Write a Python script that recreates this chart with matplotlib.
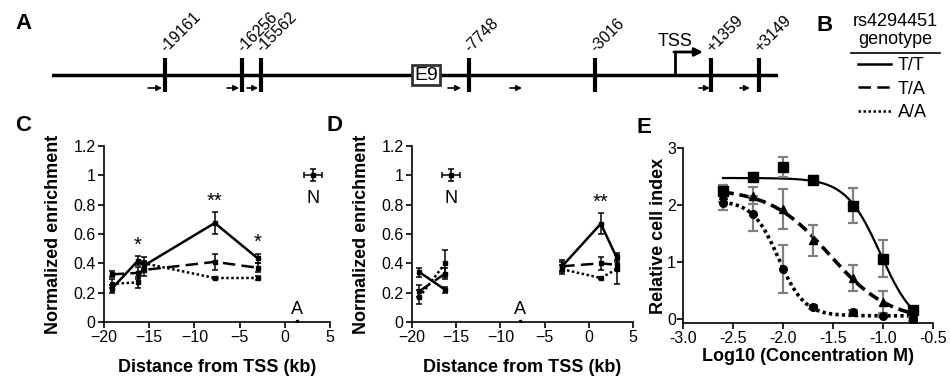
import numpy as np
import matplotlib
matplotlib.use('Agg')
import matplotlib.pyplot as plt
from matplotlib.lines import Line2D
from matplotlib.ticker import FuncFormatter

plt.rcParams['font.family'] = ['Liberation Sans', 'DejaVu Sans']

# ---- panel A: primer map (bp from TSS)
site_pos = [-19161, -16256, -15562, -7748, -3016, 1359, 3149]
site_lab = ['-19161', '-16256', '-15562', '-7748', '-3016', '+1359', '+3149']
primer_start = [-19790, -16823, -16072, -8524, -6196, 901, 2441]
primer_end = [-19264, -16372, -15659, -8036, -5745, 1314, 2816]
e9_pos = -9360
tss_pos = 0

# ---- panels C / D: ChIP enrichment (kb from TSS)
c_x = [-19.161, -16.256, -15.562, -7.748, -3.016]
c_tt = [0.225, 0.418, 0.385, 0.675, 0.435]
c_tt_err = [0.03, 0.03, 0.03, 0.075, 0.03]
c_ta = [0.325, 0.335, 0.355, 0.41, 0.37]
c_ta_err = [0.02, 0.04, 0.04, 0.055, 0.03]
c_aa = [0.26, 0.27, 0.40, 0.30, 0.30]
c_aa_err = [0.03, 0.035, 0.04, 0.01, 0.015]
c_stars = [(-16.256, '*'), (-7.748, '**'), (-3.016, '*')]
c_n = 3.149
c_a = 1.359

d_x_left = [-19.161, -16.256]
d_x_right = [-3.016, 1.359, 3.149]
d_tt_left = [0.34, 0.22]
d_tt_left_err = [0.03, 0.02]
d_ta_left = [0.21, 0.33]
d_ta_left_err = [0.04, 0.04]
d_aa_left = [0.17, 0.40]
d_aa_left_err = [0.05, 0.09]
d_tt_right = [0.38, 0.67, 0.44]
d_tt_right_err = [0.03, 0.07, 0.03]
d_ta_right = [0.38, 0.40, 0.39]
d_ta_right_err = [0.04, 0.045, 0.03]
d_aa_right = [0.36, 0.30, 0.36]
d_aa_right_err = [0.03, 0.01, 0.10]
d_stars = [(1.359, '**')]
d_n = -15.562
d_a = -7.748

# ---- panel E: cell index vs log10 concentration
logc = [-2.6, -2.3, -2.0, -1.7, -1.3, -1.0, -0.7]
e_tt = [2.25, 2.49, 2.67, 2.44, 1.99, 1.06, 0.16]
e_tt_err = [0.1, 0.07, 0.18, 0.07, 0.3, 0.33, 0.05]
e_ta = [2.18, 2.16, 1.93, 1.38, 0.72, 0.30, 0.09]
e_ta_err = [0.12, 0.15, 0.35, 0.27, 0.22, 0.19, 0.04]
e_aa = [2.03, 1.85, 0.88, 0.21, 0.12, 0.05, -0.01]
e_aa_err = [0.12, 0.3, 0.42, 0.03, 0.03, 0.02, 0.02]

W, H = 950, 378


def box(l, t, r, b):
    return [l / W, 1 - b / H, (r - l) / W, (b - t) / H]


def fit4pl(x, y):
    # grid over ec50 / hill, bottom and span solved by least squares
    x = np.asarray(x)
    y = np.asarray(y)
    cs, hs = np.meshgrid(np.arange(-3.0, -0.3, 0.005), np.arange(0.5, 12, 0.05))
    s = 1 / (1 + 10 ** (hs[..., None] * (x - cs[..., None])))
    sm = s.mean(-1, keepdims=True)
    a = ((s - sm) * (y - y.mean())).sum(-1) / ((s - sm) ** 2).sum(-1)
    b = y.mean() - a * sm[..., 0]
    res = ((y - b[..., None] - a[..., None] * s) ** 2).sum(-1)
    i = np.unravel_index(np.argmin(res), res.shape)
    return cs[i], hs[i], a[i], b[i]


fig = plt.figure(figsize=(9.5, 3.78), dpi=100)

# ================= A
ax_a = fig.add_axes(box(52, 0, 778, 110))
ax_a.set_xlim(-23400, 3870)
ax_a.set_ylim(110, 0)
ax_a.axis('off')
ax_a.axhline(75, color='k', lw=2.5, zorder=1)
for pos, lab in zip(site_pos, site_lab):
    ax_a.plot([pos, pos], [58, 92], color='k', lw=3, solid_capstyle='butt')
    ax_a.annotate(lab, xy=(pos, 53), xycoords='data', xytext=(1, 0),
                  textcoords='offset points', rotation=45.0,
                  rotation_mode='anchor', ha='left', va='baseline', fontsize=11.5)
for s0, s1 in zip(primer_start, primer_end):
    ax_a.annotate('', xy=(s1, 88), xytext=(s0, 88),
                  arrowprops=dict(arrowstyle='-|>', lw=1.2, color='k',
                                  mutation_scale=8, shrinkA=0, shrinkB=0))
ax_a.text(e9_pos, 75, 'E9', ha='center', va='center', fontsize=14, zorder=3,
          bbox=dict(boxstyle='square,pad=0.1', fc='white', ec='#333333', lw=2))
ax_a.plot([tss_pos, tss_pos], [75, 52], color='k', lw=2, solid_capstyle='butt')
ax_a.annotate('', xy=(tss_pos + 1050, 52), xytext=(tss_pos - 40, 52),
              arrowprops=dict(arrowstyle='-|>', lw=2, color='k',
                              mutation_scale=12, shrinkA=0, shrinkB=0))
ax_a.text(tss_pos, 42, 'TSS', ha='center', va='center', fontsize=13)

# ================= C and D
styles = {
    'T/T': dict(ls='-', lw=1.8),
    'T/A': dict(ls=(0, (5, 2.5)), lw=1.8),
    'A/A': dict(ls=(0, (1, 1)), lw=1.8),
}


def chip_series(ax, x, y, err, key):
    ax.errorbar(x, y, yerr=err, color='k', marker='s', ms=2.5,
                capsize=2.2, elinewidth=1.1, capthick=1.1, **styles[key])


def chip_axes(ax, n_pos, a_pos, stars, tops):
    ax.set_xlim(-20, 5)
    ax.set_ylim(0, 1.2)
    ax.set_xticks(np.arange(-20, 6, 5))
    ax.set_yticks(np.arange(0, 1.21, 0.2))
    ax.yaxis.set_major_formatter(FuncFormatter(lambda v, p: '%g' % round(v, 1)))
    ax.errorbar([n_pos], [1.0], xerr=1.0, yerr=0.04, color='k', marker='s',
                ms=2.5, capsize=2.2, elinewidth=1.1, capthick=1.1, ls='none')
    ax.text(n_pos, 0.845, 'N', ha='center', va='center', fontsize=13)
    ax.plot([a_pos], [0.01], 's', color='k', ms=2)
    ax.text(a_pos, 0.085, 'A', ha='center', va='center', fontsize=13)
    for (sx, lab) in stars:
        ax.text(sx, tops[sx] + 0.075, lab, ha='center', va='center', fontsize=14.5)
    ax.set_xlabel('Distance from TSS (kb)', fontsize=13, fontweight='bold', labelpad=10)
    ax.set_ylabel('Normalized enrichment', fontsize=13, fontweight='bold', labelpad=8)


ax_c = fig.add_axes(box(104, 146, 330, 322))
chip_series(ax_c, c_x, c_tt, c_tt_err, 'T/T')
chip_series(ax_c, c_x, c_ta, c_ta_err, 'T/A')
chip_series(ax_c, c_x, c_aa, c_aa_err, 'A/A')
tops_c = {x: v + e for x, v, e in zip(c_x, c_tt, c_tt_err)}
chip_axes(ax_c, c_n, c_a, c_stars, tops_c)

ax_d = fig.add_axes(box(412, 146, 633, 322))
chip_series(ax_d, d_x_left, d_tt_left, d_tt_left_err, 'T/T')
chip_series(ax_d, d_x_left, d_ta_left, d_ta_left_err, 'T/A')
chip_series(ax_d, d_x_left, d_aa_left, d_aa_left_err, 'A/A')
chip_series(ax_d, d_x_right, d_tt_right, d_tt_right_err, 'T/T')
chip_series(ax_d, d_x_right, d_ta_right, d_ta_right_err, 'T/A')
chip_series(ax_d, d_x_right, d_aa_right, d_aa_right_err, 'A/A')
tops_d = {x: v + e for x, v, e in zip(d_x_right, d_tt_right, d_tt_right_err)}
chip_axes(ax_d, d_n, d_a, d_stars, tops_d)

# ================= E
ax_e = fig.add_axes(box(683, 148, 933, 323))
xx = np.linspace(logc[0], logc[-1], 300)
curve_style = {
    'T/T': dict(ls='-', lw=1.6),
    'T/A': dict(ls=(0, (3, 1.6)), lw=2.6),
    'A/A': dict(ls=(0, (0.9, 0.9)), lw=2.6),
}
for y, err, mk, ms, key in [(e_tt, e_tt_err, 's', 7.5, 'T/T'),
                            (e_ta, e_ta_err, '^', 5.5, 'T/A'),
                            (e_aa, e_aa_err, 'o', 5.5, 'A/A')]:
    c50, hill, amp, bot = fit4pl(logc, y)
    ax_e.plot(xx, bot + amp / (1 + 10 ** (hill * (xx - c50))), color='k',
              zorder=2, **curve_style[key])
    ax_e.errorbar(logc, y, yerr=err, fmt='none', ecolor='#808080',
                  elinewidth=1.6, capsize=3.5, capthick=1.6, zorder=3)
    ax_e.plot(logc, y, mk, color='k', ms=ms, zorder=4)
ax_e.set_xlim(-3.0, -0.5)
ax_e.set_ylim(-0.07, 3)
ax_e.set_xticks(np.arange(-3.0, -0.49, 0.5))
ax_e.set_yticks([0, 1, 2, 3])
ax_e.xaxis.set_major_formatter(FuncFormatter(lambda v, p: '%.1f' % v))
ax_e.set_xlabel('Log10 (Concentration M)', fontsize=13, fontweight='bold', labelpad=1)

for ax in (ax_c, ax_d, ax_e):
    for side in ('top', 'right'):
        ax.spines[side].set_visible(False)
    for side in ('left', 'bottom'):
        ax.spines[side].set_linewidth(1.2)
    ax.tick_params(direction='out', length=4, width=1.2, labelsize=11.5, pad=2)
ax_e.tick_params(axis='y', pad=1)
ax_e.set_ylabel('Relative cell index', fontsize=13, fontweight='bold', labelpad=0)

# ================= B legend
fig.text(895 / W, 1 - 22 / H, 'rs4294451', ha='center', va='center', fontsize=13)
fig.text(895 / W, 1 - 40 / H, 'genotype', ha='center', va='center', fontsize=13)
fig.add_artist(Line2D([851 / W, 940 / W], [1 - 53 / H, 1 - 53 / H], color='k', lw=1.2))
handles = [Line2D([], [], color='k', **styles[k]) for k in ('T/T', 'T/A', 'A/A')]
fig.legend(handles, ['T/T', 'T/A', 'A/A'], loc='upper left',
           bbox_to_anchor=(858 / W, 1 - 57 / H), frameon=False, fontsize=13,
           handlelength=1.8, handletextpad=0.4, labelspacing=0.36,
           borderpad=0, borderaxespad=0)

# panel letters
for lab, px, py in [('A', 15, 13), ('B', 817, 15), ('C', 15, 115), ('D', 327, 115), ('E', 637, 117)]:
    fig.text(px / W, 1 - py / H, lab, fontsize=16, fontweight='bold', va='top', ha='left')

fig.savefig('out.png', dpi=100)
